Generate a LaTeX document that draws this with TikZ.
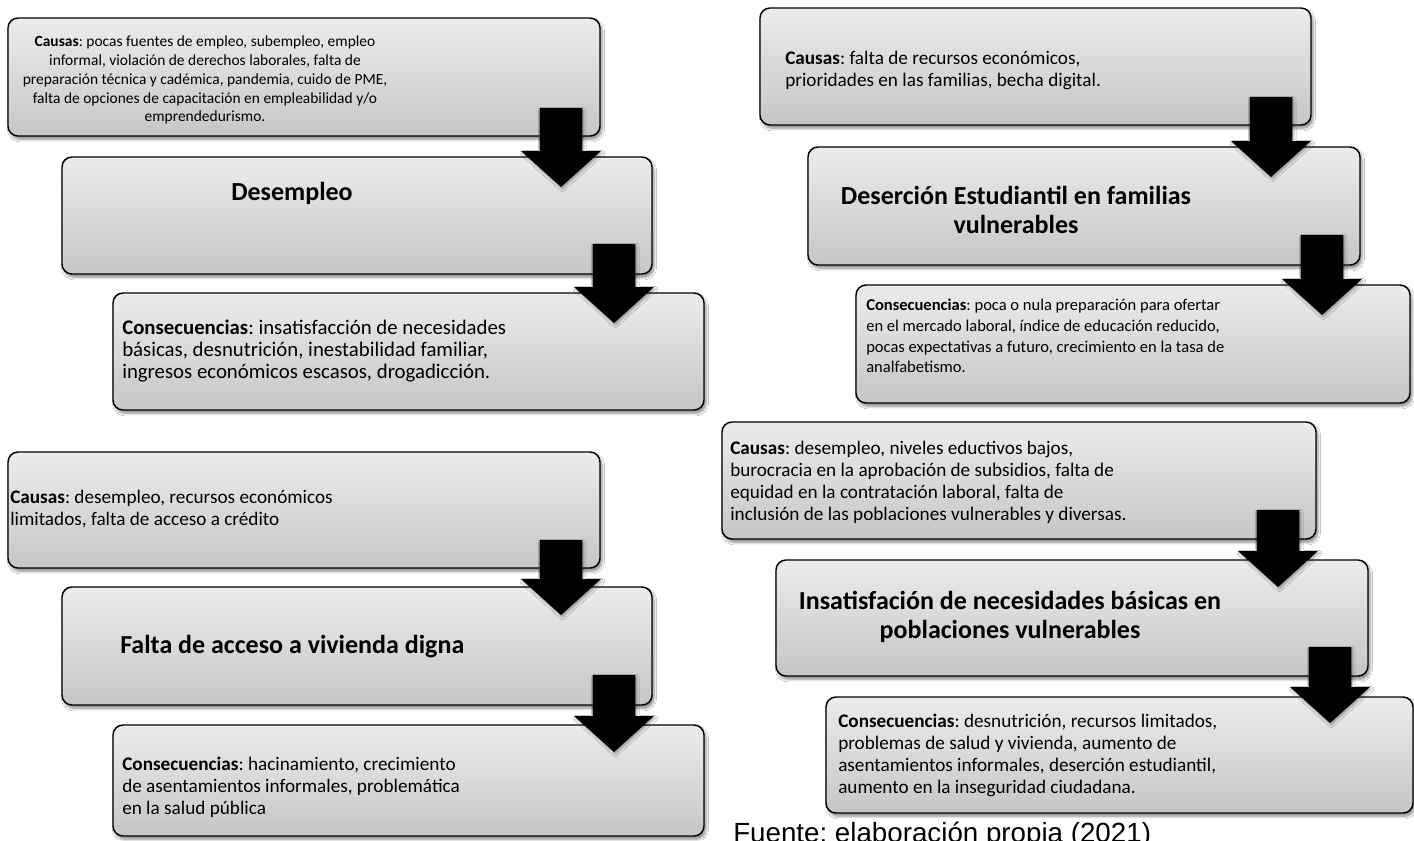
\documentclass[tikz,border=0pt]{standalone}
\usepackage{fontspec}
\setmainfont{Carlito}
\newfontfamily\arialf{Liberation Sans}
\usetikzlibrary{calc,shadows.blur}
\definecolor{boxtop}{RGB}{236,236,236}
\definecolor{boxbot}{RGB}{198,198,198}
\tikzset{
  box/.style={draw=black, line width=1.1pt, rounded corners=7.5pt, top color=boxtop, bottom color=boxbot,
    inner sep=0pt, outer sep=0pt,
    blur shadow={shadow xshift=1.5pt, shadow yshift=-2.5pt, shadow blur steps=6, shadow opacity=45}},
  blk/.style={fill=black, blur shadow={shadow xshift=1pt, shadow yshift=-1.5pt, shadow blur steps=4, shadow opacity=35}},
  smalltxt/.style={font=\fontsize{11.6}{14.2}\selectfont, inner sep=0pt},
  midtxt/.style={font=\fontsize{12.4}{15.5}\selectfont, inner sep=0pt},
  bodytxt/.style={font=\fontsize{14.4}{16.5}\selectfont, inner sep=0pt},
  bigtxt/.style={font=\fontsize{15.6}{16.5}\selectfont, inner sep=0pt},
  titletxt/.style={font=\fontsize{19.5}{22}\selectfont\bfseries, inner sep=0pt},
}
\newcommand\bx[5]{%
  \pgfmathsetmacro\bw{(#4-#2)*0.75}\pgfmathsetmacro\bh{(#5-#3)*0.75}%
  \node[box, minimum width=\bw pt, minimum height=\bh pt] (#1) at ({(#2+#4)/2},{(#3+#5)/2}) {};}
\newcommand\blkarrow[2]{%
  \path[blk] let \p1=(#1), \p2=(#2) in
   (\x1-16pt,\y1) -- (\x1+16pt,\y1) -- (\x1+16pt,\y2+27pt) -- (\x1+30pt,\y2+27pt)
   -- (\x1,\y2) -- (\x1-30pt,\y2+27pt) -- (\x1-16pt,\y2+27pt) -- cycle;}
\begin{document}
\frenchspacing
\begin{tikzpicture}[x=0.75pt,y=-0.75pt]
\useasboundingbox (0,0) rectangle (1414,840);
\fill[white] (0,0) rectangle (1414,840);
% boxes
\bx{A}{8}{18}{600}{136}
\bx{B}{62}{157}{652}{274}
\bx{C}{113}{293}{704}{410}
\bx{D}{8}{452}{600}{568}
\bx{E}{62}{587}{652}{705}
\bx{F}{113}{725}{704}{836}
\bx{G}{760}{8}{1311}{125}
\bx{H}{808}{147}{1360}{265}
\bx{I}{856}{285}{1410}{403}
\bx{J}{722}{422}{1316}{539}
\bx{K}{776}{560}{1368}{676}
\bx{L}{826}{697}{1413}{813}
% arrows
\blkarrow{$(A.south east)+(-39,-28)$}{$(A.south east |- B.north)+(-39,30)$}
\blkarrow{$(B.south east)+(-38,-30)$}{$(B.south east |- C.north)+(-38,30)$}
\blkarrow{$(D.south east)+(-39,-28)$}{$(D.south east |- E.north)+(-39,28)$}
\blkarrow{$(E.south east)+(-38,-30)$}{$(E.south east |- F.north)+(-38,27)$}
\blkarrow{$(G.south east)+(-40,-28)$}{$(G.south east |- H.north)+(-40,30)$}
\blkarrow{$(H.south east)+(-38,-30)$}{$(H.south east |- I.north)+(-38,30)$}
\blkarrow{$(J.south east)+(-38,-29)$}{$(J.south east |- K.north)+(-38,27)$}
\blkarrow{$(K.south east)+(-38,-29)$}{$(K.south east |- L.north)+(-38,26)$}
% texts
\node[smalltxt, align=center] (tA) at (205,80) {\textbf{Causas}: pocas fuentes de empleo, subempleo, empleo\\ informal, violación de derechos laborales, falta de\\ preparación técnica y cadémica, pandemia, cuido de PME,\\ falta de opciones de capacitación en empleabilidad y/o\\ emprendedurismo.};
\node[titletxt] (tB) at (292,193) {Desempleo};
\node[bigtxt, align=left, anchor=west] (tC) at (122,351) {\textbf{Consecuencias}: insatisfacción de necesidades\\ básicas, desnutrición, inestabilidad familiar,\\ ingresos económicos escasos, drogadicción.};
\node[bodytxt, align=left, anchor=west] (tD) at (10,509) {\textbf{Causas}: desempleo, recursos económicos\\ limitados, falta de acceso a crédito};
\node[titletxt, anchor=west] (tE) at (120,647) {Falta de acceso a vivienda digna};
\node[bodytxt, align=left, anchor=west] (tF) at (122,787) {\textbf{Consecuencias}: hacinamiento, crecimiento\\ de asentamientos informales, problemática\\ en la salud pública};
\node[bodytxt, align=left, anchor=west] (tG) at (785,70) {\textbf{Causas}: falta de recursos económicos,\\ prioridades en las familias, becha digital.};
\node[titletxt, align=center] (tH) at (1016,210) {Deserción Estudiantil en familias\\ vulnerables};
\node[midtxt, align=left, anchor=west] (tI) at (866,336) {\textbf{Consecuencias}: poca o nula preparación para ofertar\\ en el mercado laboral, índice de educación reducido,\\ pocas expectativas a futuro, crecimiento en la tasa de\\ analfabetismo.};
\node[bodytxt, align=left, anchor=west] (tJ) at (730,482) {\textbf{Causas}: desempleo, niveles eductivos bajos,\\ burocracia en la aprobación de subsidios, falta de\\ equidad en la contratación laboral, falta de\\ inclusión de las poblaciones vulnerables y diversas.};
\node[titletxt, align=center] (tK) at (1010,617) {Insatisfación de necesidades básicas en\\ poblaciones vulnerables};
\node[bodytxt, align=left, anchor=west] (tL) at (838,755) {\textbf{Consecuencias}: desnutrición, recursos limitados,\\ problemas de salud y vivienda, aumento de\\ asentamientos informales, deserción estudiantil,\\ aumento en la inseguridad ciudadana.};
\node[font=\arialf\fontsize{20.8}{24}\selectfont, anchor=base west, inner sep=0pt] (src) at (733,842) {Fuente: elaboración propia (2021)};
\end{tikzpicture}
\end{document}
